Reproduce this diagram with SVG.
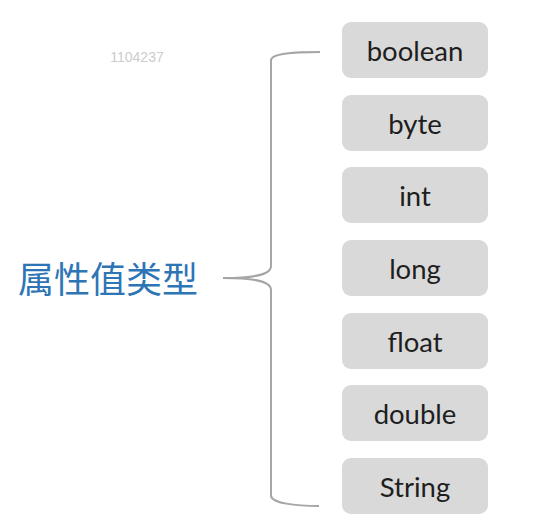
<svg xmlns="http://www.w3.org/2000/svg" width="535" height="526" viewBox="0 0 535 526">
<style>
.box{fill:#d9d9d9;}
.lbl{font-family:Lato,"Open Sans",sans-serif;font-size:27.5px;fill:#1e1e1e;text-anchor:middle;dominant-baseline:central;}
.br{fill:none;stroke:#a6a6a6;stroke-width:2;}
</style>
<rect width="535" height="526" fill="#ffffff"/>
<text x="137" y="57" font-family="Liberation Sans, sans-serif" font-size="14" fill="#cccccc" text-anchor="middle" dominant-baseline="central">1104237</text>
<g id="title"><text x="108" y="277" font-family="Noto Sans CJK SC, sans-serif" font-size="36" fill="#2e75b6" text-anchor="middle" dominant-baseline="central">属性值类型</text></g>
<g id="connectors">
<path class="br" d="M320,52 C295,52 272,53 271,60 L271,266 C271,276 250,278 223,278 C250,278 271,280 271,290 L271,496 C272,503 295,506 319,506"/>
</g>
<g id="n1"><rect class="box" x="342" y="22" width="146" height="56" rx="9"/><text class="lbl" x="415" y="50">boolean</text></g>
<g id="n2"><rect class="box" x="342" y="95" width="146" height="56" rx="9"/><text class="lbl" x="415" y="123">byte</text></g>
<g id="n3"><rect class="box" x="342" y="167" width="146" height="56" rx="9"/><text class="lbl" x="415" y="195">int</text></g>
<g id="n4"><rect class="box" x="342" y="240" width="146" height="56" rx="9"/><text class="lbl" x="415" y="268">long</text></g>
<g id="n5"><rect class="box" x="342" y="313" width="146" height="56" rx="9"/><text class="lbl" x="415" y="341">float</text></g>
<g id="n6"><rect class="box" x="342" y="385" width="146" height="56" rx="9"/><text class="lbl" x="415" y="413">double</text></g>
<g id="n7"><rect class="box" x="342" y="458" width="146" height="56" rx="9"/><text class="lbl" x="415" y="486">String</text></g>
</svg>
